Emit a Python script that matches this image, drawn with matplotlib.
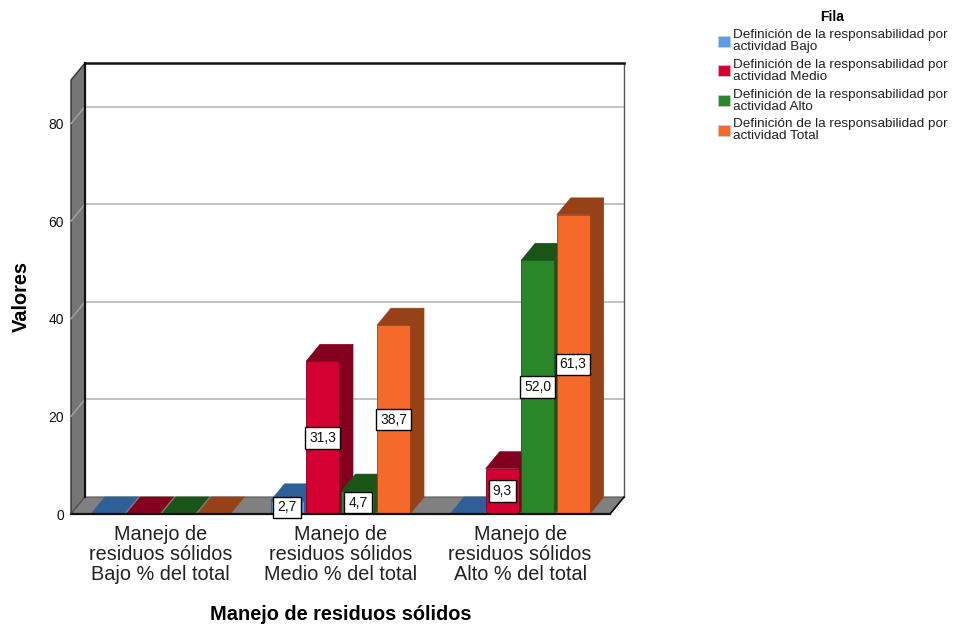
import matplotlib
matplotlib.use("Agg")
import matplotlib.pyplot as plt
from matplotlib.patches import Polygon, Patch

plt.rcParams['font.family'] = ['Liberation Sans', 'DejaVu Sans']

# datos de la tabla
categorias = ["Manejo de\nresiduos sólidos\nBajo % del total",
              "Manejo de\nresiduos sólidos\nMedio % del total",
              "Manejo de\nresiduos sólidos\nAlto % del total"]
series = ["Definición de la responsabilidad por\nactividad Bajo",
          "Definición de la responsabilidad por\nactividad Medio",
          "Definición de la responsabilidad por\nactividad Alto",
          "Definición de la responsabilidad por\nactividad Total"]
bajo = [0, 2.7, 0]
medio = [0, 31.3, 9.3]
alto = [0, 4.7, 52.0]
total = [0, 38.7, 61.3]
yticks = [0, 20, 40, 60, 80]

valores = [bajo, medio, alto, total]
frente = ["#5B9BEA", "#D50032", "#2A8729", "#F5692B"]
oscuro = ["#2F5F97", "#84001F", "#1A5518", "#964118"]

W, H = 954, 628
fig = plt.figure(figsize=(W / 100, H / 100), dpi=100)
# plano frontal del grafico, en pixeles: x 71-610, y 514 para el cero
ax = fig.add_axes([71 / W, 1 - 514 / H, 539 / W, 434 / H])
ax.set_xlim(0, 3)
ymax = 434 / 4.88
ax.set_ylim(0, ymax)
for s in ax.spines.values():
    s.set_visible(False)
ax.patch.set_visible(False)

# profundidad del efecto 3D en unidades de datos
dx = 14 * 3 / 539
dy = 17 / 4.88

# paredes y piso
ax.add_patch(Polygon([(0, 0), (dx, dy), (dx, ymax + dy), (0, ymax)], closed=True,
                     fc="#757575", ec="#333333", lw=1, clip_on=False, zorder=1))
ax.add_patch(Polygon([(0, 0), (dx, dy), (3 + dx, dy), (3, 0)], closed=True,
                     fc="#808080", ec="#555555", lw=0.8, clip_on=False, zorder=1))

for t in yticks[1:]:
    ax.plot([dx, 3 + dx], [t + dy, t + dy], color="#BDBDBD", lw=1.3, clip_on=False, zorder=1.5)
    ax.plot([0, dx], [t, t + dy], color="#A5A5A5", lw=1, clip_on=False, zorder=1.5)

ax.plot([3 + dx, 3 + dx], [ymax + dy, dy], color="#555555", lw=1, clip_on=False, zorder=1.6)
ax.plot([dx, 3 + dx], [ymax + dy, ymax + dy], color="#111111", lw=1.8, clip_on=False, zorder=1.6)
ax.plot([dx, dx], [dy, ymax + dy], color="#111111", lw=1.6, clip_on=False, zorder=1.6)
ax.plot([3 + dx, 3], [dy, 0], color="#111111", lw=1.2, clip_on=False, zorder=1.6)

paso = 35.5 / 179.7
ancho = 33 / 179.7
centro = 1 / 179.7
z = 2
for g in range(len(categorias)):
    for i, vals in enumerate(valores):
        v = vals[g]
        x0 = g + 0.5 + centro + (i - 2) * paso
        x1 = x0 + ancho
        ax.add_patch(Polygon([(x0, v), (x0 + dx, v + dy), (x1 + dx, v + dy), (x1, v)], closed=True,
                             fc=oscuro[i], ec=oscuro[i], lw=0.4, clip_on=False, zorder=z))
        if v > 0:
            ax.add_patch(Polygon([(x1, 0), (x1 + dx, dy), (x1 + dx, v + dy), (x1, v)], closed=True,
                                 fc=oscuro[i], ec=oscuro[i], lw=0.5, clip_on=False, zorder=z))
            ax.bar(x0, v, width=ancho, align="edge", color=frente[i], edgecolor=oscuro[i], lw=0.6, zorder=z + 0.1)
        z += 0.2

# etiquetas de valores, encima de todas las barras
for g in range(len(categorias)):
    for i, vals in enumerate(valores):
        v = vals[g]
        if v > 0:
            xc = g + 0.5 + centro + (i - 2) * paso + ancho / 2
            ax.text(xc, v / 2, f"{v:.1f}".replace(".", ","), ha="center", va="center", fontsize=10,
                    color="#111111", zorder=20,
                    bbox=dict(boxstyle="square,pad=0.28", fc="white", ec="black", lw=1))

ax.plot([0, 3], [0, 0], color="#111111", lw=1.6, clip_on=False, zorder=19)

ax.set_xticks([0.5, 1.5, 2.5])
ax.set_xticklabels(categorias, fontsize=14.3, color="#222222", linespacing=1.05)
ax.set_yticks(yticks)
ax.set_yticklabels([str(t) for t in yticks], fontsize=10, color="#111111")
ax.tick_params(axis="x", length=0, pad=8)
ax.tick_params(axis="y", length=0, pad=5)

fig.text(340.5 / W, 1 - 614 / H, "Manejo de residuos sólidos", fontsize=14.4, fontweight="bold",
         ha="center", va="center")
fig.text(21 / W, 1 - 297 / H, "Valores", fontsize=14.4, fontweight="bold", rotation=90,
         ha="center", va="center")

handles = [Patch(fc=c, ec="#D0D0D0", lw=0.5) for c in frente]
leg = fig.legend(handles, series, loc="upper left", bbox_to_anchor=(715 / W, 1 - 7 / H), frameon=False,
                 title="Fila", fontsize=9.7, title_fontproperties={"weight": "bold", "size": 10},
                 handlelength=0.9, handleheight=0.9, handletextpad=0.22, labelspacing=0.42,
                 borderpad=0.2, borderaxespad=0)
for t in leg.get_texts():
    t.set_linespacing(1.0)
    t.set_color("#222222")

fig.savefig("out.png", dpi=100)
